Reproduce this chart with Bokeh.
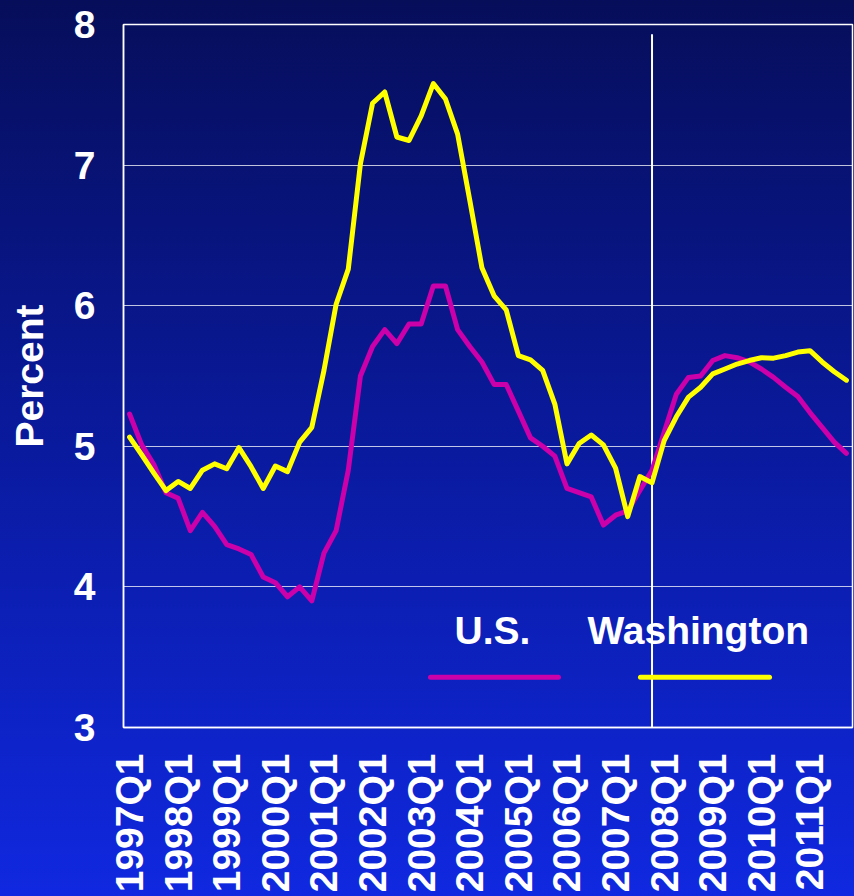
import math
from bokeh.plotting import figure
from bokeh.models import FixedTicker, Range1d, Label, ColumnDataSource
from bokeh.embed import file_html
from bokeh.resources import INLINE

# ---- data -------------------------------------------------------------
years = list(range(1997, 2012))
quarters = [f"{y}Q{q}" for y in years for q in range(1, 5)]

us = [5.23, 5.01, 4.87, 4.67, 4.63, 4.40, 4.53, 4.43, 4.30, 4.27,
      4.23, 4.07, 4.03, 3.93, 4.00, 3.90, 4.24, 4.40, 4.83, 5.50,
      5.71, 5.83, 5.73, 5.87, 5.87, 6.14, 6.14, 5.83, 5.71, 5.60,
      5.44, 5.44, 5.25, 5.06, 5.00, 4.93, 4.70, 4.67, 4.64, 4.44,
      4.51, 4.54, 4.685, 4.83, 5.10, 5.37, 5.49, 5.50, 5.61, 5.645,
      5.63, 5.60, 5.55, 5.49, 5.42, 5.355, 5.24, 5.135, 5.03, 4.95]

washington = [5.065, 4.94, 4.81, 4.685, 4.75, 4.70, 4.83, 4.875, 4.84, 4.99,
              4.855, 4.70, 4.86, 4.82, 5.03, 5.135, 5.54, 6.01, 6.26, 7.01,
              7.44, 7.52, 7.20, 7.175, 7.35, 7.58, 7.47, 7.22, 6.75, 6.27,
              6.07, 5.97, 5.645, 5.615, 5.54, 5.30, 4.875, 5.02, 5.08, 5.01,
              4.845, 4.50, 4.785, 4.74, 5.04, 5.21, 5.35, 5.42, 5.515, 5.55,
              5.585, 5.61, 5.63, 5.627, 5.645, 5.67, 5.68, 5.60, 5.53, 5.47]

y_ticks = [3, 4, 5, 6, 7, 8]
tick_labels = [q for q in quarters if q.endswith("Q1")]
marker_quarter = "2007Q4"
series_names = ["U.S.", "Washington"]

# ---- styling ----------------------------------------------------------
FONT = "Liberation Sans"
US_COLOR = "#CC00AA"
WA_COLOR = "#FFFF00"
LW = 5

idx = list(range(len(quarters)))
src = ColumnDataSource(dict(x=idx, us=us, wa=washington))

p = figure(width=854, height=896, output_backend="svg", toolbar_location=None,
           x_range=Range1d(-0.5, len(quarters) - 0.5), y_range=Range1d(3, 8),
           min_border_left=123, min_border_right=2, min_border_top=24,
           min_border_bottom=169)
p.styles = {"background": "linear-gradient(to bottom, #060e5a 0%, #0a1a9e 50%, #1028e0 100%)"}
p.border_fill_alpha = 0
p.background_fill_alpha = 0
p.outline_line_color = "white"
p.outline_line_width = 1.5

# axes
p.yaxis.ticker = FixedTicker(ticks=y_ticks)
p.xaxis.ticker = FixedTicker(ticks=[quarters.index(t) for t in tick_labels])
p.xaxis.major_label_overrides = {quarters.index(t): t for t in tick_labels}
p.xaxis.major_label_orientation = math.pi / 2
for ax in (p.xaxis[0], p.yaxis[0]):
    ax.major_tick_line_color = None
    ax.minor_tick_line_color = None
    ax.axis_line_color = "white"
    ax.axis_line_width = 1.5
    ax.major_label_text_font = FONT
    ax.major_label_text_font_style = "bold"
    ax.major_label_text_font_size = "39px"
    ax.major_label_text_color = "white"
p.xaxis.major_label_standoff = 20
p.yaxis.major_label_standoff = 22
p.yaxis.axis_label = "Percent"
p.yaxis.axis_label_text_font = FONT
p.yaxis.axis_label_text_font_style = "bold"
p.yaxis.axis_label_text_font_size = "39px"
p.yaxis.axis_label_text_color = "white"
p.yaxis.axis_label_standoff = 20

p.xgrid.visible = False
p.ygrid.grid_line_color = "white"
p.ygrid.grid_line_alpha = 0.75
p.ygrid.grid_line_width = 1

# vertical marker line
mx = quarters.index(marker_quarter)
p.segment(x0=[mx], y0=[2.9], x1=[mx], y1=[7.93], line_color="white", line_width=2)

# series
p.line("x", "us", source=src, line_color=US_COLOR, line_width=LW, line_join="round", line_cap="round")
p.line("x", "wa", source=src, line_color=WA_COLOR, line_width=LW, line_join="round", line_cap="round")

# legend (labels above sample lines)
leg_y_text = 3.69
leg_y_line = 3.358
for name, color, tx, lx0, lx1 in [(series_names[0], US_COLOR, 26.74, 24.77, 35.3),
                                 (series_names[1], WA_COLOR, 37.68, 42.05, 52.67)]:
    p.add_layout(Label(x=tx, y=leg_y_text, text=name, text_font=FONT,
                       text_font_style="bold", text_font_size="39px",
                       text_color="white", text_baseline="alphabetic"))
    p.segment(x0=[lx0], y0=[leg_y_line], x1=[lx1], y1=[leg_y_line],
              line_color=color, line_width=LW, line_cap="round")

open("out.html", "w").write(file_html(p, INLINE))
